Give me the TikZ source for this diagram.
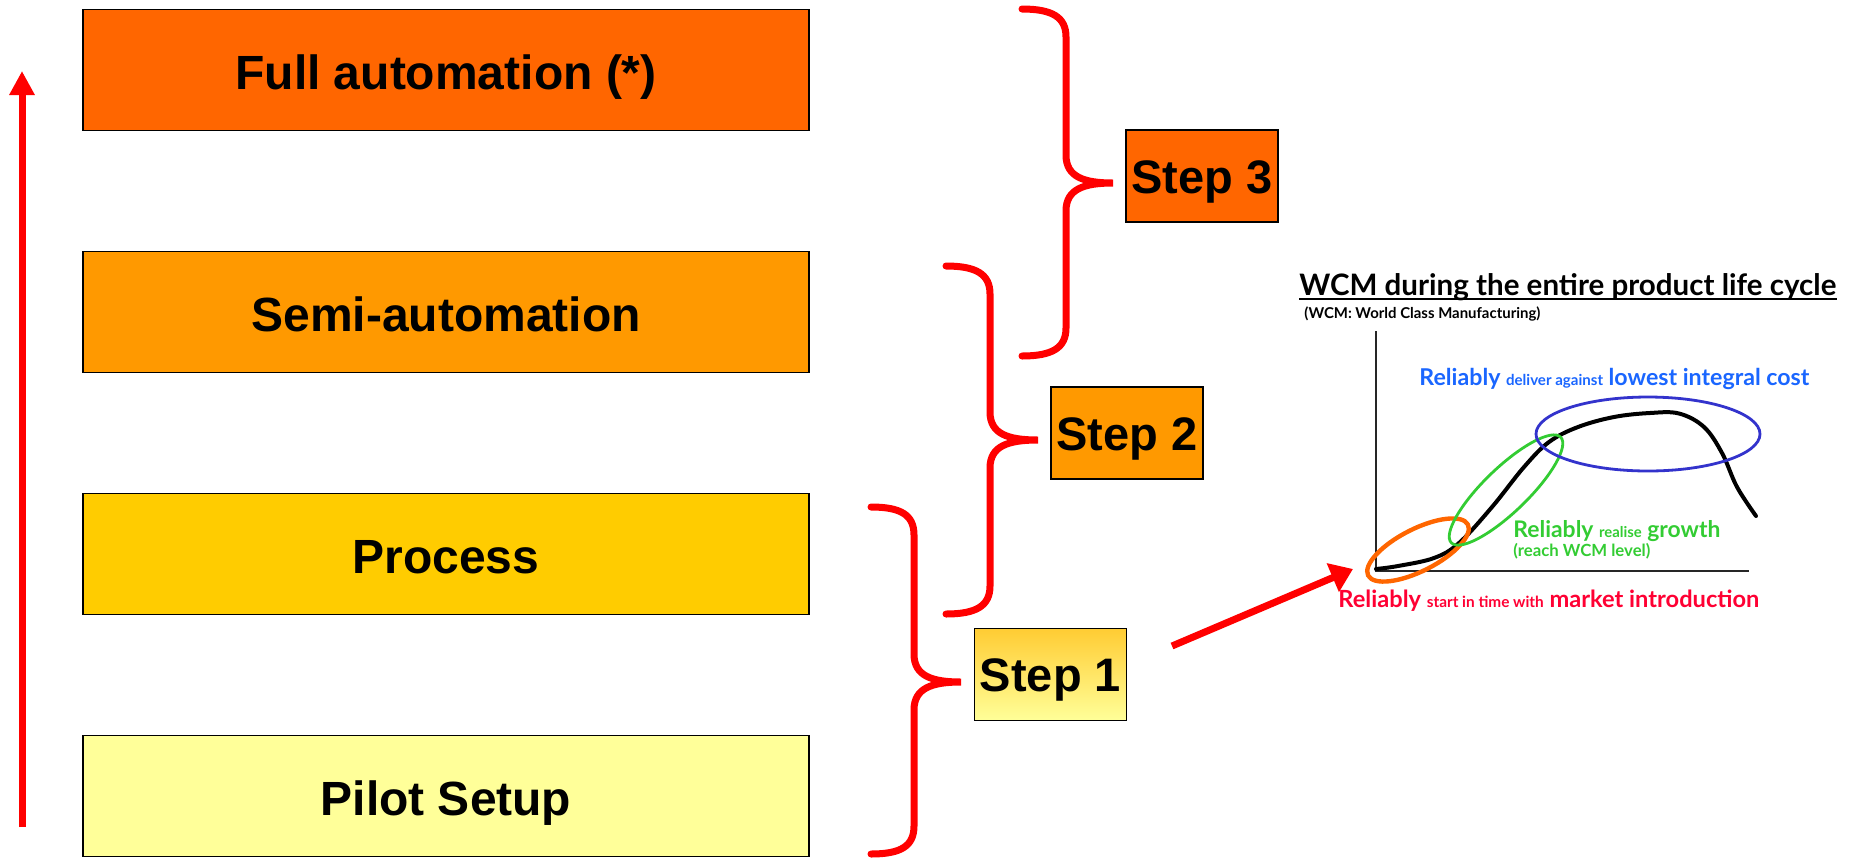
\documentclass[tikz,border=0pt]{standalone}
\usepackage{graphicx}
\usepackage{fontspec}
\setmainfont{Liberation Sans}
\newfontfamily\chartfont{Lato}
\usetikzlibrary{arrows.meta,shadings}
\definecolor{cFull}{HTML}{FF6600}
\definecolor{cSemi}{HTML}{FF9900}
\definecolor{cProc}{HTML}{FFCC00}
\definecolor{cPilot}{HTML}{FFFF99}
\definecolor{cStepTop}{HTML}{FFCC33}
\definecolor{cRed}{HTML}{FF0000}
\definecolor{cRedTxt}{HTML}{FF0033}
\definecolor{cBlueTxt}{HTML}{1A66FF}
\definecolor{cBlueEl}{HTML}{3333CC}
\definecolor{cGreen}{HTML}{33CC33}
\definecolor{cOrange}{HTML}{FF6600}
\newcommand{\fitto}[2]{\resizebox{#1}{!}{#2}}
\newcommand{\smalltxt}{\fontsize{6.5}{7}\selectfont}
\newcommand{\mybrace}[6]{%
  \draw[bracestyle] (#1,#4) .. controls ({#1+30},#4) and (#2,{#4+8}) .. (#2,{#4+28})
    -- (#2,{#5-28}) .. controls (#2,{#5-6}) and ({#2+18},#5) .. (#3,#5)
    .. controls ({#2+18},#5) and (#2,{#5+6}) .. (#2,{#5+28})
    -- (#2,{#6-28}) .. controls (#2,{#6-8}) and ({#1+30},#6) .. (#1,#6);}
\tikzset{
  levelbox/.style={draw=black, line width=0.8pt, minimum width=363pt, minimum height=60.5pt,
    inner sep=0pt, text height=21.6pt, text depth=2pt, font=\fontsize{24}{28}\selectfont\bfseries},
  stepbox/.style={draw=black, line width=0.8pt, minimum width=76pt, minimum height=46pt,
    inner sep=0pt, text height=18.8pt, text depth=1.4pt, font=\fontsize{23.5}{28}\selectfont\bfseries},
  bracestyle/.style={draw=cRed, line width=3.5pt, line cap=round},
  redarrow/.style={draw=cRed, line width=3.5pt, -{Triangle[length=12pt,width=12pt]}},
  chartarrow/.style={draw=cRed, line width=3.5pt, -{Triangle[length=11pt,width=15pt]}},
  axis/.style={draw=black!85, line width=1pt},
  lbl/.style={anchor=base west, inner sep=0pt},
}
\begin{document}
\begin{tikzpicture}[x=0.5pt,y=-0.5pt]
\useasboundingbox (0,0) rectangle (1852,858);
% level boxes
\node[levelbox, fill=cFull]  (full)  at (446,70)  {Full automation (*)};
\node[levelbox, fill=cSemi]  (semi)  at (446,312) {Semi-automation};
\node[levelbox, fill=cProc]  (proc)  at (446,554) {Process};
\node[levelbox, fill=cPilot] (pilot) at (446,796) {Pilot Setup};
% left arrow
\coordinate (upbot) at (22,827);
\coordinate (uptop) at (22,71);
\draw[redarrow] (upbot) -- (uptop);
% braces
\mybrace{1022}{1066}{1113}{9}{183}{356}
\mybrace{946}{990}{1038}{266}{440}{614}
\mybrace{871}{914}{961}{507}{682}{854}
% step boxes
\node[stepbox, fill=cFull] (s3) at (1202,176) {Step 3};
\node[stepbox, fill=cSemi] (s2) at (1127,433) {Step 2};
\node[stepbox, top color=cStepTop, bottom color=cPilot] (s1) at (1050.5,674.5) {Step 1};
% arrow to chart
\coordinate (arrs) at (1172,646);
\coordinate (arre) at (1353,569);
\draw[chartarrow] (arrs) -- (arre);
% chart
\node[lbl] (title) at (1299,295) {\fitto{268.5pt}{\chartfont\bfseries\fontsize{14}{16}\selectfont WCM during the entire product life cycle}};
\draw[line width=1pt] ([yshift=-2pt]title.base west) -- ([yshift=-2pt]title.base east);
\node[lbl] (sub) at (1304,318) {\fitto{118pt}{\chartfont\bfseries\fontsize{7}{8}\selectfont (WCM: World Class Manufacturing)}};
\coordinate (orig) at (1376,571);
\coordinate (ytop) at (1376,331);
\coordinate (xend) at (1749,571);
\draw[axis] (ytop) -- (orig) -- (xend);
\draw[line width=2pt, line cap=round, line join=round] plot[smooth, tension=0.6] coordinates {
 (1376,569) (1398,566) (1434,558) (1459,543) (1492,507) (1524,467) (1549,442)
 (1578,427) (1614,417) (1650,413) (1679,413.5) (1704,427) (1722,453) (1737,487) (1756,516)};
\coordinate (oc) at (1418,550);
\draw[cOrange, line width=2.2pt, rotate around={27:(oc)}] (oc) ellipse [x radius=28pt, y radius=10.5pt];
\coordinate (gc) at (1506,490);
\draw[cGreen, line width=1.4pt, rotate around={44:(gc)}] (gc) ellipse [x radius=38pt, y radius=11pt];
\coordinate (bc) at (1648,434);
\draw[cBlueEl, line width=1.4pt] (bc) ellipse [x radius=56pt, y radius=18.5pt];
\node[lbl, text=cBlueTxt] (lblue) at (1419,385) {\fitto{195pt}{\chartfont\bfseries\fontsize{10}{12}\selectfont Reliably {\smalltxt deliver against} lowest integral cost}};
\node[lbl, text=cGreen] (lgreen1) at (1513,537) {\fitto{103.5pt}{\chartfont\bfseries\fontsize{10}{12}\selectfont Reliably {\smalltxt realise} growth}};
\node[lbl, text=cGreen] (lgreen2) at (1513,556) {\fitto{68.5pt}{\chartfont\bfseries\fontsize{7}{8}\selectfont (reach WCM level)}};
\node[lbl, text=cRedTxt] (lred) at (1338,607) {\fitto{210.5pt}{\chartfont\bfseries\fontsize{10}{12}\selectfont Reliably {\smalltxt start in time with} market introduction}};
\end{tikzpicture}
\end{document}
